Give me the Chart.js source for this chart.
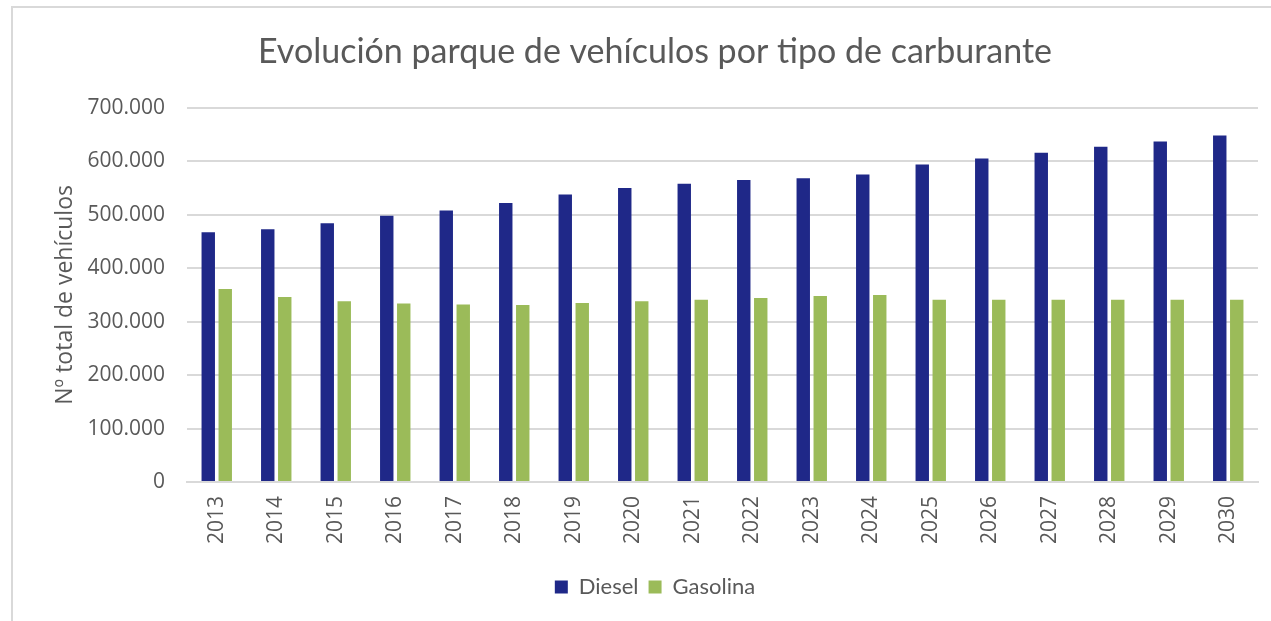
<!DOCTYPE html>
<html>
<head>
<meta charset="utf-8">
<script src="https://cdn.jsdelivr.net/npm/chart.js@4.4.1/dist/chart.umd.min.js"></script>
<style>
  html, body { margin: 0; padding: 0; background: #ffffff; }
  body { width: 1271px; height: 621px; overflow: hidden; position: relative; }
  #frame { position: absolute; left: 11px; top: 6px; width: 1300px; height: 700px; border-left: 2px solid #d9d9d9; border-top: 2px solid #d9d9d9; box-sizing: border-box; }
  #wrap { position: absolute; left: 0; top: 0; width: 1271px; height: 621px; }
</style>
</head>
<body>
<div id="frame"></div>
<div id="wrap"><canvas id="c" width="1271" height="621"></canvas></div>
<script>
const categories = ["2013","2014","2015","2016","2017","2018","2019","2020","2021","2022","2023","2024","2025","2026","2027","2028","2029","2030"];
const dieselValues = [467000, 473000, 484000, 498000, 508000, 522000, 538000, 550000, 558000, 565000, 568000, 575000, 594000, 605000, 616000, 627000, 637000, 648000];
const gasolinaValues = [361000, 346000, 338000, 334000, 332000, 331000, 335000, 338000, 341000, 344000, 348000, 350000, 341000, 341000, 341000, 341000, 341000, 341000];
const yTickValues = [0, 100000, 200000, 300000, 400000, 500000, 600000, 700000];
const chartTitle = "Evolución parque de vehículos por tipo de carburante";
const yAxisTitle = "Nº total de vehículos";
const seriesNames = ["Diesel", "Gasolina"];

function fmt(v) {
  return String(Math.round(v)).replace(/\B(?=(\d{3})+(?!\d))/g, ".");
}

const textColor = "#595959";
const gridColor = "#d9d9d9";

new Chart(document.getElementById("c"), {
  type: "bar",
  data: {
    labels: categories,
    datasets: [
      { label: seriesNames[0], data: dieselValues, backgroundColor: "#1f2888", borderWidth: 0,
        categoryPercentage: 0.571, barPercentage: 0.79 },
      { label: seriesNames[1], data: gasolinaValues, backgroundColor: "#9bbb59", borderWidth: 0,
        categoryPercentage: 0.571, barPercentage: 0.79 }
    ]
  },
  options: {
    responsive: false,
    animation: false,
    devicePixelRatio: 1,
    layout: { padding: { left: 52, right: 13, top: 32, bottom: 13 } },
    plugins: {
      title: {
        display: true,
        text: chartTitle,
        color: textColor,
        font: { family: "Lato", size: 34, weight: "normal", lineHeight: 1.2 },
        padding: { top: 0, bottom: 35 }
      },
      legend: {
        position: "bottom",
        labels: {
          color: textColor,
          font: { family: "Lato", size: 22 },
          boxWidth: 13,
          boxHeight: 13,
          padding: 10
        }
      },
      tooltip: { enabled: false }
    },
    scales: {
      x: {
        grid: { display: false, drawTicks: false },
        border: { display: true, color: gridColor, width: 2 },
        ticks: {
          color: textColor,
          font: { family: "Open Sans", size: 21 },
          minRotation: 90,
          maxRotation: 90,
          padding: 14,
          autoSkip: false
        },
        afterFit(scale) { scale.height = 84; }
      },
      y: {
        min: 0,
        max: 700000,
        afterBuildTicks(scale) { scale.ticks = yTickValues.map(v => ({ value: v })); },
        grid: { color: gridColor, lineWidth: 2, drawTicks: false },
        border: { display: false },
        ticks: {
          color: textColor,
          font: { family: "Open Sans", size: 21 },
          padding: 22,
          callback: (v) => fmt(v)
        },
        title: {
          display: true,
          text: yAxisTitle,
          color: textColor,
          font: { family: "Open Sans", size: 23 },
          padding: { top: 0, bottom: 0 }
        },
        afterFit(scale) { scale.width = 135; }
      }
    }
  }
});
</script>
</body>
</html>
